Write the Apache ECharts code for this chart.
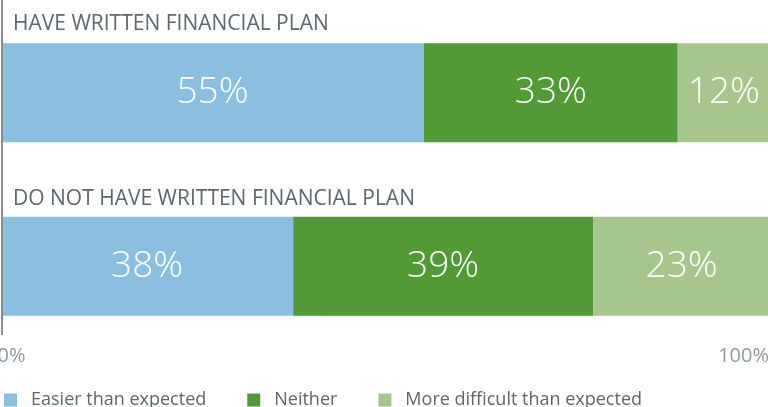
<!DOCTYPE html>
<html>
<head>
<meta charset="utf-8">
<script src="https://cdn.jsdelivr.net/npm/echarts@6/dist/echarts.min.js"></script>
<style>
  html, body { margin: 0; padding: 0; background: #fff; }
  #chart { width: 768px; height: 407px; }
</style>
</head>
<body>
<div id="chart"></div>
<script>
  // 数据
  const categories = ["HAVE WRITTEN FINANCIAL PLAN", "DO NOT HAVE WRITTEN FINANCIAL PLAN"];
  const easier = [55, 38];
  const neither = [33, 39];
  const harder = [12, 23];
  const seriesNames = ["Easier than expected", "Neither", "More difficult than expected"];
  const tickLabels = ["0%", "100%"];

  const colors = ["#8bbfe0", "#529a35", "#a7c68d"];
  const font = "Open Sans";
  const chart = echarts.init(document.getElementById("chart"));

  const barLabel = {
    show: true,
    position: "inside",
    color: "#ffffff",
    fontFamily: font,
    fontWeight: 300,
    fontSize: 37,
    formatter: "{c}%",
  };

  const makeSeries = (name, data, color) => ({
    name: name,
    type: "bar",
    stack: "total",
    data: data,
    barWidth: 99,
    itemStyle: { color: color },
    label: barLabel,
    emphasis: { disabled: true },
  });

  const option = {
    animation: false,
    textStyle: { fontFamily: font },
    grid: { left: 1, right: -2, top: 6, height: 347, containLabel: false, outerBoundsMode: "none" },
    xAxis: {
      type: "value",
      min: 0,
      max: 100,
      interval: 100,
      splitLine: { show: false },
      axisLine: { show: false },
      axisTick: { show: false },
      axisLabel: {
        margin: -7,
        formatter: (v) => (v === 0 ? "{a|" + tickLabels[0] + "}" : "{b|" + tickLabels[1] + "}"),
        rich: {
          a: { fontSize: 20, fontFamily: font, color: "#8f9aa1", padding: [0, 0, 0, 21] },
          b: { fontSize: 20, fontFamily: font, color: "#8f9aa1", padding: [0, 1, 0, 0] },
        },
        alignMaxLabel: "right",
      },
    },
    yAxis: {
      type: "category",
      inverse: true,
      data: categories,
      axisLine: { show: false },
      axisTick: { show: false },
      axisLabel: {
        inside: true,
        margin: 12,
        verticalAlign: "middle",
        formatter: (v, i) => (i === 0 ? "{t|" + v + "}" : "{u|" + v + "}"),
        rich: {
          t: { fontSize: 21, fontFamily: font, color: "#5c6770", padding: [0, 0, 138, 0] },
          u: { fontSize: 21, fontFamily: font, color: "#5c6770", padding: [0, 0, 134, 0] },
        },
      },
      z: 10,
    },
    legend: {
      left: 4,
      top: 391,
      padding: 0,
      itemWidth: 13,
      itemHeight: 13,
      itemGap: 41,
      icon: "rect",
      textStyle: { color: "#5c6770", fontSize: 18, fontFamily: font, padding: [0, 0, 0, 9] },
      data: seriesNames,
    },
    graphic: [
      {
        type: "line",
        shape: { x1: 2, y1: 0, x2: 2, y2: 335 },
        style: { stroke: "#8c8c8c", lineWidth: 2 },
        z: 20,
      },
    ],
    series: [
      makeSeries(seriesNames[0], easier, colors[0]),
      makeSeries(seriesNames[1], neither, colors[1]),
      makeSeries(seriesNames[2], harder, colors[2]),
    ],
  };

  chart.setOption(option);
</script>
</body>
</html>
